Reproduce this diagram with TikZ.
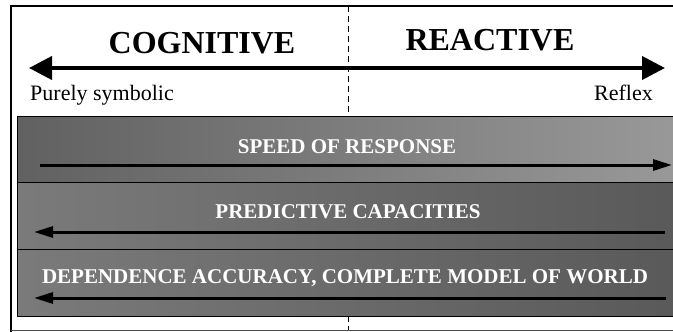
\documentclass[tikz,border=0pt]{standalone}
\usepackage{fontspec}
\setmainfont{Liberation Serif}
\usetikzlibrary{arrows.meta}
\begin{document}
\begin{tikzpicture}[x=1pt,y=-1pt,
  band/.style={draw=black,line width=0.8pt},
  bandtext/.style={text=white,font=\fontsize{21}{23}\selectfont\bfseries,anchor=base,inner sep=0pt},
  headtext/.style={font=\fontsize{32}{34}\selectfont\bfseries,anchor=base,inner sep=0pt},
  sidetext/.style={font=\fontsize{22}{24}\selectfont,inner sep=0pt},
  bigarrow/.style={line width=4pt,-{Triangle[length=23pt,width=23pt]}},
  bandarrow/.style={line width=3pt,-{Triangle[length=19pt,width=11pt]}}]
\useasboundingbox (0,0) rectangle (673,332);
\fill[white] (0,0) rectangle (673,332);
% outer frame
\draw[line width=2pt] (11,332+5) -- (11,6) -- (680,6);
\draw[line width=1pt,draw=black!70] (11,330) -- (680,330);
% dashed divider (behind the bands)
\coordinate (dtop) at (348,6);
\coordinate (dbot) at (348,330);
\draw[dashed,dash pattern=on 6pt off 4pt,line width=0.8pt] (dtop) -- (dbot);
% bands
\shade[left color=black!62,right color=black!40] (17,116) rectangle (680,182.5);
\shade[left color=black!52,right color=black!65] (17,182.5) rectangle (680,249.5);
\shade[left color=black!52,right color=black!65] (17,249.5) rectangle (680,316.5);
\draw[band] (680,116) -- (17,116) -- (17,316.5) -- (680,316.5);
\draw[band] (17,182.5) -- (680,182.5);
\draw[band] (17,249.5) -- (680,249.5);
% headings
\node[headtext] (cog) at (202,53.5) {COGNITIVE};
\node[headtext] (rea) at (490,50) {REACTIVE};
\node[sidetext,anchor=base west] (sym) at (30,100) {Purely symbolic};
\node[sidetext,anchor=base east] (ref) at (653,100) {Reflex};
% big arrow
\coordinate (bigm) at (348,68);
\coordinate (bigl) at (29,68);
\coordinate (bigr) at (665,68);
\draw[bigarrow] (bigm) -- (bigl);
\draw[bigarrow] (bigm) -- (bigr);
% band texts
\node[bandtext] (speed) at (347,153) {SPEED OF RESPONSE};
\node[bandtext] (pred) at (348,218) {PREDICTIVE CAPACITIES};
\node[bandtext] (dep) at (345,283) {DEPENDENCE ACCURACY, COMPLETE MODEL OF WORLD};
% band arrows
\coordinate (a1s) at (40,165);
\coordinate (a1e) at (672,165);
\coordinate (a2s) at (665,232);
\coordinate (a2e) at (34,232);
\coordinate (a3s) at (666,298);
\coordinate (a3e) at (34,298);
\draw[bandarrow] (a1s) -- (a1e);
\draw[bandarrow] (a2s) -- (a2e);
\draw[bandarrow] (a3s) -- (a3e);
\end{tikzpicture}
\end{document}
